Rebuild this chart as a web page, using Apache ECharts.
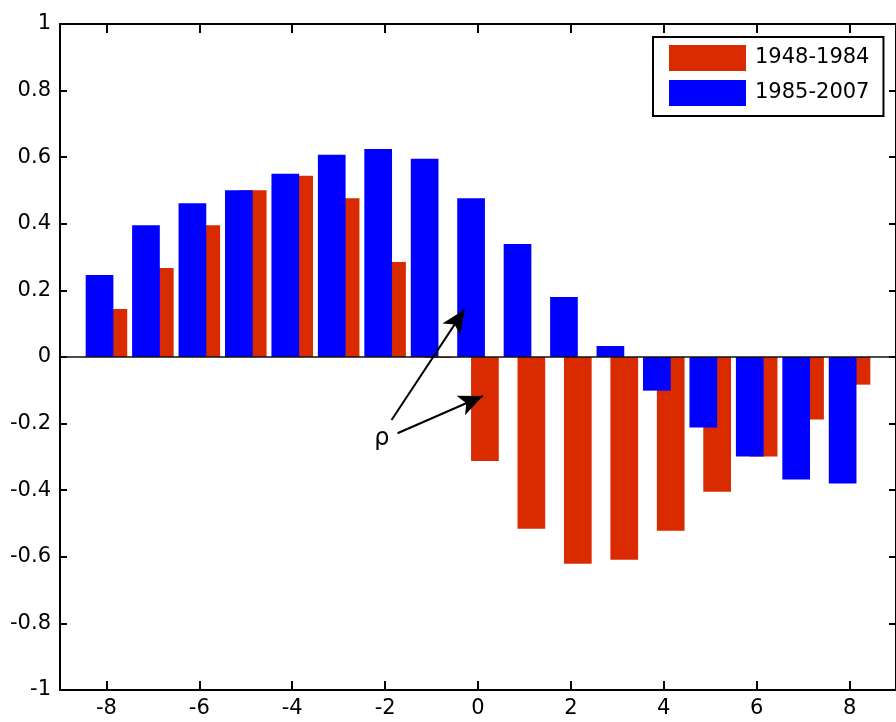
<!DOCTYPE html>
<html>
<head>
<meta charset="utf-8">
<script src="https://cdn.jsdelivr.net/npm/echarts@6/dist/echarts.min.js"></script>
<style>
html,body{margin:0;padding:0;background:#fff;}
#chart{width:896px;height:722px;}
</style>
</head>
<body>
<div id="chart"></div>
<script>
// ---- data ----
const lags = [-8, -7, -6, -5, -4, -3, -2, -1, 0, 1, 2, 3, 4, 5, 6, 7, 8];
const rho1948_1984 = [0.144, 0.267, 0.396, 0.501, 0.544, 0.477, 0.285, -0.003, -0.312, -0.516, -0.621, -0.609, -0.522, -0.405, -0.299, -0.188, -0.083];
const rho1985_2007 = [0.246, 0.396, 0.462, 0.501, 0.550, 0.607, 0.625, 0.595, 0.477, 0.339, 0.180, 0.033, -0.101, -0.212, -0.299, -0.368, -0.380];
const xTickValues = [-8, -6, -4, -2, 0, 2, 4, 6, 8];
const seriesNames = ['1948-1984', '1985-2007'];
// annotation: label "ρ" and two arrows (data coordinates: start, tip)
const rhoLabelAt = [-2.071, -0.247];
const rhoArrows = [
  [[-1.861, -0.189], [-0.289, 0.143]],
  [[-1.733, -0.229], [0.103, -0.117]]
];

const FONT = 'DejaVu Sans';
const RED = '#DA2A00';
const BLUE = '#0000FF';

const chart = echarts.init(document.getElementById('chart'), null, {renderer: 'canvas'});

const toPairs = (vals) => lags.map((x, i) => [x, vals[i]]);

const axisLine = {show: true, onZero: false, lineStyle: {color: '#000', width: 2}};

const option = {
  animation: false,
  backgroundColor: '#fff',
  grid: {left: 60, top: 24, width: 841, height: 666, containLabel: false},
  legend: {
    orient: 'vertical',
    left: 653,
    top: 37,
    data: seriesNames,
    icon: 'rect',
    itemWidth: 77,
    itemHeight: 26,
    itemGap: 9,
    padding: [8, 14, 10, 16],
    backgroundColor: '#fff',
    borderColor: '#000',
    borderWidth: 2,
    selectedMode: false,
    itemStyle: {borderWidth: 0},
    textStyle: {fontFamily: FONT, fontSize: 21, color: '#000', padding: [0, 0, 0, 4]}
  },
  xAxis: [
    {
      type: 'value', position: 'bottom', min: -9, max: 9,
      axisLine: axisLine,
      splitLine: {show: false},
      axisTick: {show: true, inside: true, length: 9, lineStyle: {color: '#000', width: 2}, customValues: xTickValues},
      axisLabel: {show: true, margin: 8, fontFamily: FONT, fontSize: 21, color: '#000', customValues: xTickValues,
        formatter: (v) => String(v)}
    },
    {
      type: 'value', position: 'top', min: -9, max: 9,
      axisLine: axisLine,
      splitLine: {show: false},
      axisTick: {show: true, inside: true, length: 9, lineStyle: {color: '#000', width: 2}, customValues: xTickValues},
      axisLabel: {show: false}
    }
  ],
  yAxis: [
    {
      type: 'value', position: 'left', min: -1, max: 1, interval: 0.2,
      axisLine: axisLine,
      splitLine: {show: false},
      axisTick: {show: true, inside: true, length: 7, lineStyle: {color: '#000', width: 2}},
      axisLabel: {show: true, margin: 9, fontFamily: FONT, fontSize: 21, color: '#000',
        formatter: (v) => String(Math.round(v * 10) / 10)}
    },
    {
      type: 'value', position: 'right', min: -1, max: 1, interval: 0.2,
      axisLine: axisLine,
      splitLine: {show: false},
      axisTick: {show: true, inside: true, length: 7, lineStyle: {color: '#000', width: 2}},
      axisLabel: {show: false}
    }
  ],
  series: [
    {
      name: seriesNames[1],
      type: 'bar',
      xAxisIndex: 0, yAxisIndex: 0,
      data: toPairs(rho1985_2007),
      barWidth: 27.7,
      barGap: '-50%',
      z: 3,
      itemStyle: {color: BLUE},
      emphasis: {disabled: true}
    },
    {
      name: seriesNames[0],
      type: 'bar',
      xAxisIndex: 0, yAxisIndex: 0,
      data: toPairs(rho1948_1984),
      barWidth: 27.7,
      barGap: '-50%',
      z: 2,
      itemStyle: {color: RED},
      emphasis: {disabled: true}
    },
    {
      name: 'annotations',
      type: 'line',
      xAxisIndex: 0, yAxisIndex: 0,
      data: [],
      z: 5,
      silent: true,
      markLine: {
        silent: true,
        animation: false,
        symbol: ['none', 'none'],
        label: {show: false},
        lineStyle: {color: '#111', width: 1.5, type: 'solid'},
        emphasis: {disabled: true},
        data: [
          {yAxis: 0, symbol: 'none'},
          ...rhoArrows.map(a => [
            {coord: a[0], symbol: 'none', lineStyle: {color: '#000', width: 2}},
            {coord: a[1], symbol: 'arrow', symbolSize: [16, 24]}
          ])
        ]
      },
      markPoint: {
        silent: true,
        animation: false,
        symbol: 'circle',
        symbolSize: 1,
        itemStyle: {color: 'rgba(0,0,0,0)'},
        label: {show: true, position: 'inside', formatter: 'ρ', fontFamily: FONT, fontSize: 24, color: '#000'},
        data: [{coord: rhoLabelAt}]
      }
    }
  ]
};

chart.setOption(option);
</script>
</body>
</html>
